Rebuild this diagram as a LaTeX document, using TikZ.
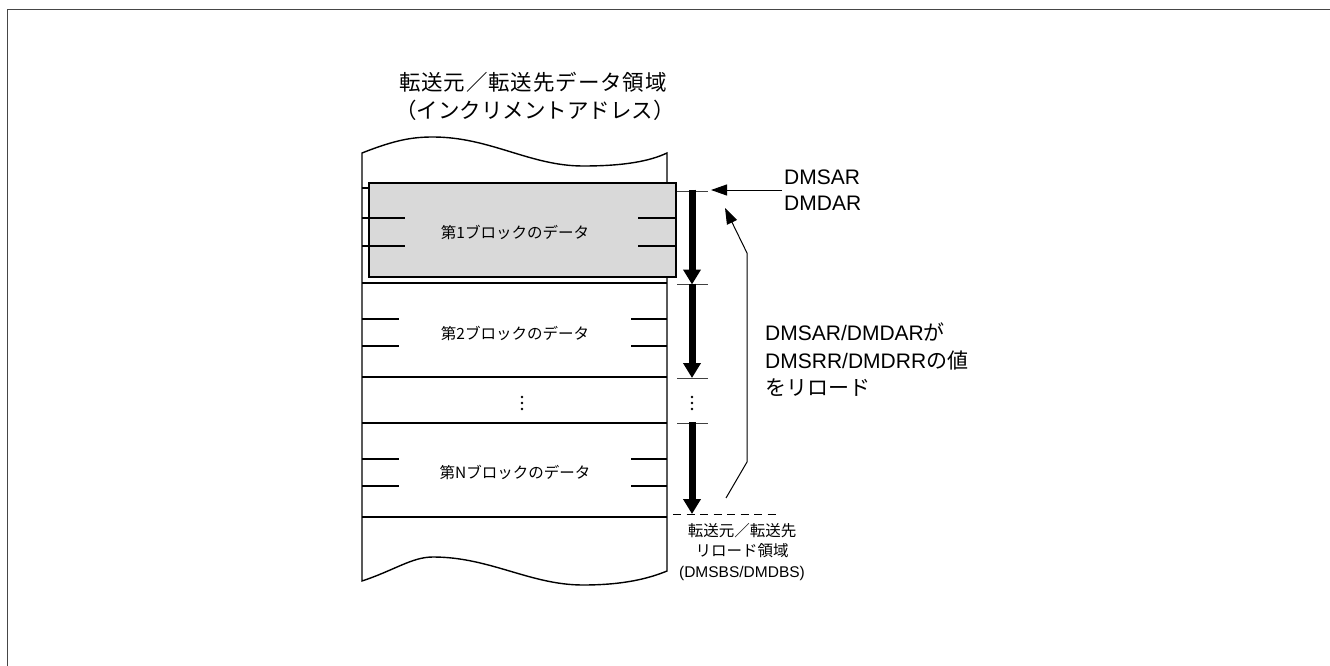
\documentclass[tikz,border=0pt]{standalone}
\usepackage{fontspec}
\setmainfont{Liberation Sans}
\newfontfamily\jp{Noto Sans CJK JP}
\newfontfamily\jpwide[LetterSpace=4]{Noto Sans CJK JP}
\usetikzlibrary{arrows.meta}
\definecolor{boxgray}{RGB}{217,217,217}
\definecolor{framegray}{RGB}{70,70,70}
\begin{document}
\begin{tikzpicture}[x=1pt,y=-1pt,
  outline/.style={line width=1.4pt, black},
  stub/.style={line width=1.1pt, black},
  tickline/.style={line width=0.9pt, black!75},
  frameline/.style={line width=1.8pt, framegray},
  bigarrow/.style={line width=7pt, -{Triangle[width=17pt,length=15pt]}},
  thinarrow/.style={line width=1pt, -{Triangle[width=11pt,length=16pt]}},
  blocklabel/.style={font=\jp\fontsize{15.5}{19}\selectfont, inner sep=0pt},
  dashline/.style={line width=1pt, dash pattern=on 8pt off 5.5pt},
  dotmark/.style={circle, fill=black, inner sep=0pt, minimum size=2.8pt}
]
\useasboundingbox (0,0) rectangle (1330,666);
% outer frame (only top and left edges visible)
\draw[frameline] (7.5,666) -- (7.5,9.5) -- (1330,9.5);

% title
\node[anchor=west, align=left, inner sep=0pt, font=\fontsize{21.5}{28}\selectfont] (title) at (399,96)
  {{\jpwide 転送元／転送先データ領域}\\\hspace*{-4pt}{\jp （インクリメントアドレス）}};

% memory column with wavy top and bottom
\draw[outline, fill=white] (362,581) -- (362,153)
  .. controls (395,140) and (412,137) .. (433,137)
  .. controls (490,137) and (530,166) .. (583,166)
  .. controls (625,166) and (650,161) .. (667,153)
  -- (667,571)
  .. controls (650,578) and (625,585) .. (583,585)
  .. controls (530,585) and (490,557) .. (433,557)
  .. controls (412,557) and (395,570) .. (362,581) -- cycle;

% block boundaries
\foreach \y in {188,283,377,423,517} \draw[outline] (362,\y) -- (667,\y);
\foreach \y in {218,246,319,346,459,486} {
  \draw[stub] (362,\y) -- (399,\y);
  \draw[stub] (631,\y) -- (667,\y);
}

% highlighted first block
\draw[outline, fill=boxgray] (369,183) rectangle (676,277);
\foreach \y in {218,246} {
  \draw[stub] (369,\y) -- (405,\y);
  \draw[stub] (638,\y) -- (676,\y);
}

% block labels
\node[blocklabel] (t1) at (515,232) {第1ブロックのデータ};
\node[blocklabel] (t2) at (515,333) {第2ブロックのデータ};
\node[blocklabel] (tN) at (515,472) {第Nブロックのデータ};
\foreach \y [count=\i] in {397,403,409} \node[dotmark] (cd\i) at (522,\y) {};

% right ticks
\coordinate (k1) at (692,191);
\coordinate (k2) at (692,284);
\coordinate (k3) at (692,378);
\coordinate (k4) at (692,423);
\coordinate (k5) at (692,514);
\foreach \y in {191,284,378,423} \draw[tickline] (677,\y) -- (708,\y);
\draw[dashline] (673,514) -- (780,514);
\foreach \y [count=\i] in {397,403,409} \node[dotmark] (rd\i) at (692,\y) {};

% thick progress arrows
\draw[bigarrow] ([yshift=1.5pt]k1) -- ([yshift=-0.5pt]k2);
\draw[bigarrow] ([yshift=0.5pt]k2) -- (k3);
\draw[bigarrow] ([yshift=1pt]k4) -- (k5);

% DMSAR / DMDAR pointer
\node[anchor=west, align=left, inner sep=2pt, font=\fontsize{21}{26}\selectfont] (dm) at (782,190)
  {DMSAR\\DMDAR};
\coordinate (dmtip) at (711,190);
\draw[thinarrow] (dm.west |- dmtip) -- (dmtip);

% reload text
\node[anchor=west, align=left, inner sep=0pt, font=\fontsize{21}{27.5}\selectfont] (reload) at (765,360)
  {DMSAR/DMDAR{\jp が}\\DMSRR/DMDRR{\jp の値}\\{\jp をリロード}};

% reload arrow
\coordinate (r0) at (726,498);
\coordinate (r1) at (747,462);
\coordinate (r2) at (747,253);
\coordinate (r3) at (725,208);
\draw[thinarrow] (r0) -- (r1) -- (r2) -- (r3);

% reload area label
\node[align=center, inner sep=0pt, font=\fontsize{15.5}{20.5}\selectfont] (area) at (742,552)
  {{\jp 転送元／転送先}\\{\jp リロード領域}\\(DMSBS/DMDBS)};
\end{tikzpicture}
\end{document}
